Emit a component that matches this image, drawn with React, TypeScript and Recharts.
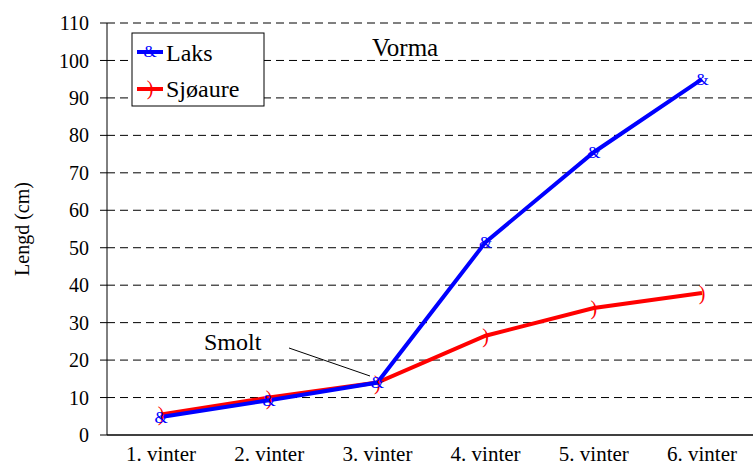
import { CartesianGrid, Line, LineChart, XAxis, YAxis, Customized } from 'recharts';

const winters = ['1. vinter', '2. vinter', '3. vinter', '4. vinter', '5. vinter', '6. vinter'];
const laks = [4.8, 9.3, 14, 51.5, 75.5, 95];
const sjoaure = [5.5, 10, 14, 26.5, 33.9, 37.9];
const yTicks = [0, 10, 20, 30, 40, 50, 60, 70, 80, 90, 100, 110];

const data = winters.map((w, i) => ({ winter: w, laks: laks[i], sjoaure: sjoaure[i] }));

const FONT = 'Liberation Serif';

function GlyphDot({ cx, cy, glyph, color, size }: any) {
  if (cx == null || cy == null) return null;
  return (
    <text
      x={cx}
      y={cy}
      fill={color}
      fontSize={size}
      fontFamily={FONT}
      textAnchor="middle"
      dominantBaseline="central"
    >
      {glyph}
    </text>
  );
}

function Decorations() {
  return (
    <g>
      <text x={372} y={56} fill="#000" fontFamily={FONT} fontSize={25}>Vorma</text>
      <text x={204} y={350} fill="#000" fontFamily={FONT} fontSize={24}>Smolt</text>
      <line x1={289} y1={348} x2={370} y2={376} stroke="#000" strokeWidth={1} />
      <rect x={132} y={33} width={132} height={73} fill="#fff" stroke="#000" strokeWidth={1} />
      <line x1={137} y1={52} x2={163} y2={52} stroke="#0000ff" strokeWidth={4} />
      <text x={150} y={51} fill="#0000ff" textAnchor="middle" dominantBaseline="central" fontFamily={FONT} fontSize={17}>&amp;</text>
      <text x={166} y={61} fill="#000" fontFamily={FONT} fontSize={24}>Laks</text>
      <line x1={137} y1={89} x2={163} y2={89} stroke="#ff0000" strokeWidth={4} />
      <text x={150} y={88} fill="#ff0000" textAnchor="middle" dominantBaseline="central" fontFamily={FONT} fontSize={20}>)</text>
      <text x={166} y={97} fill="#000" fontFamily={FONT} fontSize={24}>Sjøaure</text>
    </g>
  );
}

export default function App() {
  return (
    <div style={{ position: 'absolute', left: 0, top: 0, background: '#fff', fontFamily: FONT }}>
      <LineChart
        width={753}
        height={466}
        data={data}
        margin={{ top: 23, right: 0, left: 0, bottom: 0 }}
        style={{ fontFamily: FONT }}
      >
        <CartesianGrid horizontal vertical={false} stroke="#000" strokeDasharray="8 5" />
        <XAxis
          dataKey="winter"
          height={31}
          padding={{ left: 54, right: 51 }}
          tickLine={false}
          tickSize={6}
          tickMargin={5}
          axisLine={{ stroke: '#404040', strokeWidth: 2 }}
          tick={{ fill: '#000', fontSize: 21, fontFamily: FONT }}
          interval={0}
        />
        <YAxis
          width={107}
          domain={[0, 110]}
          ticks={yTicks}
          interval={0}
          tickSize={7}
          tickMargin={11}
          axisLine={{ stroke: '#000' }}
          tickLine={{ stroke: '#000' }}
          tick={{ fill: '#000', fontSize: 20, fontFamily: FONT }}
          label={{ value: 'Lengd (cm)', angle: -90, position: 'insideLeft', offset: 22, fontSize: 20, fill: '#000', fontFamily: FONT, style: { textAnchor: 'middle' } }}
        />
        <Line
          type="linear"
          dataKey="sjoaure"
          stroke="#ff0000"
          strokeWidth={4}
          dot={(p: any) => <GlyphDot key={`s${p.index}`} {...p} glyph=")" color="#ff0000" size={20} />}
          activeDot={false}
          isAnimationActive={false}
        />
        <Line
          type="linear"
          dataKey="laks"
          stroke="#0000ff"
          strokeWidth={4}
          dot={(p: any) => <GlyphDot key={`l${p.index}`} {...p} glyph="&" color="#0000ff" size={17} />}
          activeDot={false}
          isAnimationActive={false}
        />
        <Customized component={Decorations} />
      </LineChart>
    </div>
  );
}
